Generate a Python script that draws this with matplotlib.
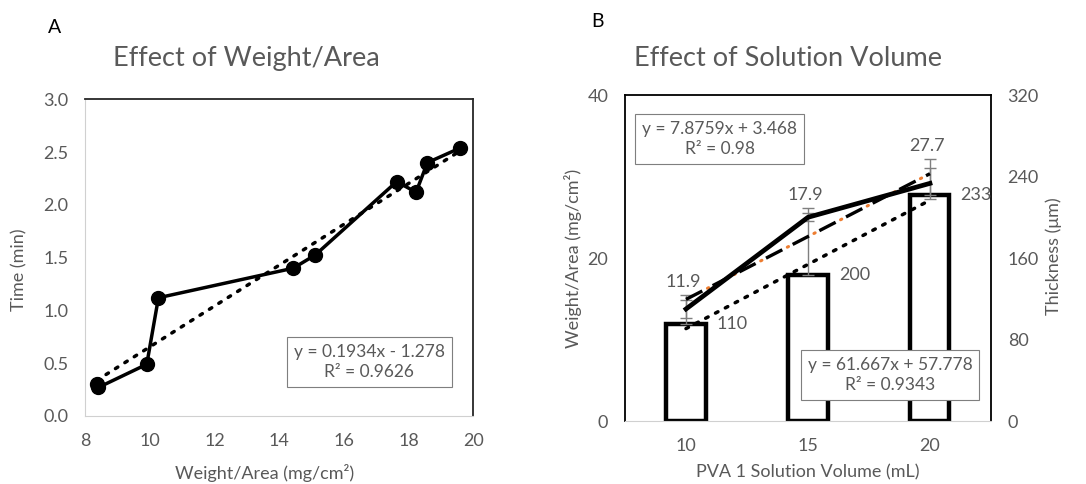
import matplotlib.pyplot as plt
import numpy as np

plt.rcParams['font.family'] = ['Lato', 'DejaVu Sans']

# panel A: dissolution time vs weight/area
wa_x = [8.35, 8.4, 9.9, 10.26, 14.43, 15.11, 17.63, 18.23, 18.58, 19.6]
time_y = [0.30, 0.27, 0.49, 1.12, 1.40, 1.525, 2.22, 2.12, 2.40, 2.54]
fit_a = (0.1934, -1.278)
eq_a = "y = 0.1934x - 1.278\nR² = 0.9626"

# panel B: solution volume
volumes = ["10", "15", "20"]
weight_area = [11.9, 17.9, 27.7]
weight_err = [3.6, 8.2, 4.4]
thickness = [110, 200, 233.3]
thick_err = [9, 4, 15]
thick_labels = ["110", "200", "233"]
fit_w = (7.8759, 3.468)
fit_t = (61.667, 57.778)
eq_w = "y = 7.8759x + 3.468\nR² = 0.98"
eq_t = "y = 61.667x + 57.778\nR² = 0.9343"

GRAY = "#595959"
FRAME = "#262626"
LIGHT = "#d0d0d0"
FS = 13
DOTS = (0, (0.8, 2.4))

fig = plt.figure(figsize=(10.86, 4.84), dpi=100)

# ---------- A ----------
ax = fig.add_axes([0.0786, 0.1405, 0.3572, 0.6543])
x = np.array(wa_x)
xf = np.array([x.min(), x.max()])
ax.plot(xf, fit_a[0] * xf + fit_a[1], color="black", lw=2.5, ls=DOTS,
        dash_capstyle="round")
ax.plot(wa_x, time_y, color="black", lw=2.5, marker="o", ms=10, zorder=3)
ax.set_xlim(8, 20)
ax.set_ylim(0, 3.0)
ax.set_xticks(range(8, 21, 2))
ax.set_yticks(np.arange(0, 3.01, 0.5))
ax.set_yticklabels([f"{v:.1f}" for v in np.arange(0, 3.01, 0.5)])
ax.tick_params(length=0, labelsize=FS, colors=GRAY, pad=12)
for s in ["left", "bottom"]:
    ax.spines[s].set_color(LIGHT)
for s in ["top", "right"]:
    ax.spines[s].set_color(FRAME)
    ax.spines[s].set_linewidth(1.3)
ax.text(0.732, 0.170, eq_a, transform=ax.transAxes, ha="center", va="center",
        fontsize=12.5, color=GRAY, linespacing=1.3,
        bbox=dict(boxstyle="square,pad=0.4", fc="white", ec="#7f7f7f", lw=0.8))
fig.text(0.05, 0.944, "A", fontsize=14, ha="center", va="center", color="black")
fig.text(0.227, 0.88, "Effect of Weight/Area", fontsize=19.5, ha="center",
         va="center", color=GRAY)
fig.text(0.018, 0.442, "Time (min)", rotation=90, fontsize=FS, ha="center",
         va="center", color=GRAY)
fig.text(0.244, 0.023, "Weight/Area (mg/cm²)", fontsize=FS, ha="center",
         va="center", color=GRAY)

# ---------- B ----------
bx = fig.add_axes([0.5755, 0.130, 0.337, 0.6737])
pos = np.arange(len(volumes))
bx.bar(pos, weight_area, width=0.32, color="white", edgecolor="black", lw=3.2,
       zorder=2)
bx.errorbar(pos, weight_area, yerr=[[0, 0, 0], weight_err], fmt="none",
            ecolor="#7f7f7f", elinewidth=1, capsize=4, capthick=1, zorder=3)
k = np.array([1, 3])
bx.plot(k - 1, fit_w[0] * k + fit_w[1], color="black", lw=2.5, ls=DOTS,
        dash_capstyle="round", zorder=4)
bx.set_xlim(-0.5, 2.5)
bx.set_ylim(0, 40)
bx.set_yticks([0, 20, 40])
bx.set_xticks(pos)
bx.set_xticklabels(volumes)
bx.tick_params(length=0, labelsize=FS, colors=GRAY, pad=12)
bx.spines["bottom"].set_color(LIGHT)
for s in ["left", "top", "right"]:
    bx.spines[s].set_color("black")
    bx.spines[s].set_linewidth(1.3)
for i, v in enumerate(weight_area):
    bx.text(i - 0.025, v + weight_err[i] + 1.6, f"{v:.1f}", ha="center",
            va="center", fontsize=FS, color=GRAY, zorder=6)
    bx.text(i + 0.38, v, thick_labels[i], ha="center", va="center",
            fontsize=FS, color=GRAY, zorder=6)

tx = bx.twinx()
tx.plot(k - 1, fit_t[0] * k + fit_t[1], color="#ed7d31", lw=2.2,
        ls=(1.9, (0.45, 9.35)), dash_capstyle="round", zorder=4)
tx.plot(k - 1, fit_t[0] * k + fit_t[1], color="black", lw=2.4,
        ls=(0, (5.5, 3.5)), zorder=5)
tx.errorbar(pos, thickness, yerr=thick_err, fmt="none", ecolor="#7f7f7f",
            elinewidth=1, capsize=4, capthick=1, zorder=4)
tx.plot(pos, thickness, color="black", lw=3.4, zorder=6)
tx.set_ylim(0, 320)
tx.set_yticks([0, 80, 160, 240, 320])
tx.tick_params(length=0, labelsize=FS, colors=GRAY, pad=12)
for s in tx.spines.values():
    s.set_visible(False)

bx.text(0.259, 0.864, eq_w, transform=bx.transAxes, ha="center", va="center",
        fontsize=12.5, color=GRAY, linespacing=1.3, zorder=7,
        bbox=dict(boxstyle="square,pad=0.4", fc="white", ec="#7f7f7f", lw=0.8))
tx.text(0.7245, 0.141, eq_t, transform=bx.transAxes, ha="center", va="center",
        fontsize=12.5, color=GRAY, linespacing=1.3, zorder=7,
        bbox=dict(boxstyle="square,pad=0.4", fc="white", ec="#7f7f7f", lw=0.8))

fig.text(0.55, 0.955, "B", fontsize=14, ha="center", va="center", color="black")
fig.text(0.7256, 0.88, "Effect of Solution Volume", fontsize=19.5, ha="center",
         va="center", color=GRAY)
fig.text(0.528, 0.467, "Weight/Area (mg/cm²)", rotation=90, fontsize=FS,
         ha="center", va="center", color=GRAY)
fig.text(0.970, 0.47, "Thickness (μm)", rotation=90, fontsize=FS,
         ha="center", va="center", color=GRAY)
fig.text(0.744, 0.023, "PVA 1 Solution Volume (mL)", fontsize=FS,
         ha="center", va="center", color=GRAY)

fig.savefig("out.png", dpi=100)
